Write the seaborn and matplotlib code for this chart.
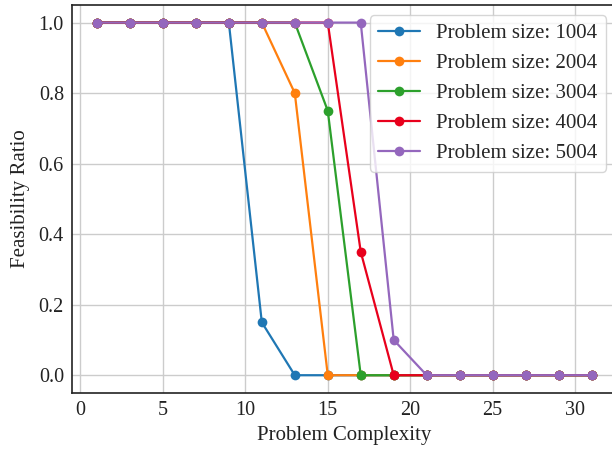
import pandas as pd
import matplotlib
matplotlib.use('Agg')
import matplotlib.pyplot as plt
import seaborn as sns

# data
complexity = [1, 3, 5, 7, 9, 11, 13, 15, 17, 19, 21, 23, 25, 27, 29, 31]
size_1004 = [1, 1, 1, 1, 1, 0.15, 0, 0, 0, 0, 0, 0, 0, 0, 0, 0]
size_2004 = [1, 1, 1, 1, 1, 1, 0.8, 0, 0, 0, 0, 0, 0, 0, 0, 0]
size_3004 = [1, 1, 1, 1, 1, 1, 1, 0.75, 0, 0, 0, 0, 0, 0, 0, 0]
size_4004 = [1, 1, 1, 1, 1, 1, 1, 1, 0.35, 0, 0, 0, 0, 0, 0, 0]
size_5004 = [1, 1, 1, 1, 1, 1, 1, 1, 1, 0.1, 0, 0, 0, 0, 0, 0]
labels = ['Problem size: 1004', 'Problem size: 2004', 'Problem size: 3004',
          'Problem size: 4004', 'Problem size: 5004']
colors = ['#1f77b4', '#ff7f0e', '#2ca02c', '#e8001c', '#9467bd']

rows = []
for lab, vals in zip(labels, [size_1004, size_2004, size_3004, size_4004, size_5004]):
    for x, y in zip(complexity, vals):
        rows.append({'Problem Complexity': x, 'Feasibility Ratio': y, 'series': lab})
df = pd.DataFrame(rows)

sns.set_style('whitegrid')
plt.rcParams['font.family'] = ['Liberation Serif', 'DejaVu Serif']

fig = plt.figure(figsize=(6.12, 4.5), dpi=100)
# right edge runs slightly past the image, as in the reference crop
ax = fig.add_axes([0.118, 0.127, 0.889, 0.862])
sns.lineplot(data=df, x='Problem Complexity', y='Feasibility Ratio', hue='series',
             palette=colors, marker='o', markersize=7, markeredgewidth=0,
             linewidth=1.6, ax=ax)

for s in ax.spines.values():
    s.set_color('#222222')
    s.set_linewidth(1.2)
ax.grid(color='#cccccc', linewidth=1.0)
ax.set_xticks([0, 5, 10, 15, 20, 25, 30])
ax.set_yticks([0.0, 0.2, 0.4, 0.6, 0.8, 1.0])
ax.tick_params(labelsize=14.5, colors='#222222', length=0, pad=6)
ax.set_xlabel('Problem Complexity', fontsize=15, color='#222222', labelpad=4)
ax.set_ylabel('Feasibility Ratio', fontsize=15, color='#222222', labelpad=6)
leg = ax.legend(loc='upper right', fontsize=15, frameon=True,
                borderaxespad=0.5, labelspacing=0.5)
leg.set_title(None)

fig.savefig('out.png', dpi=100)
